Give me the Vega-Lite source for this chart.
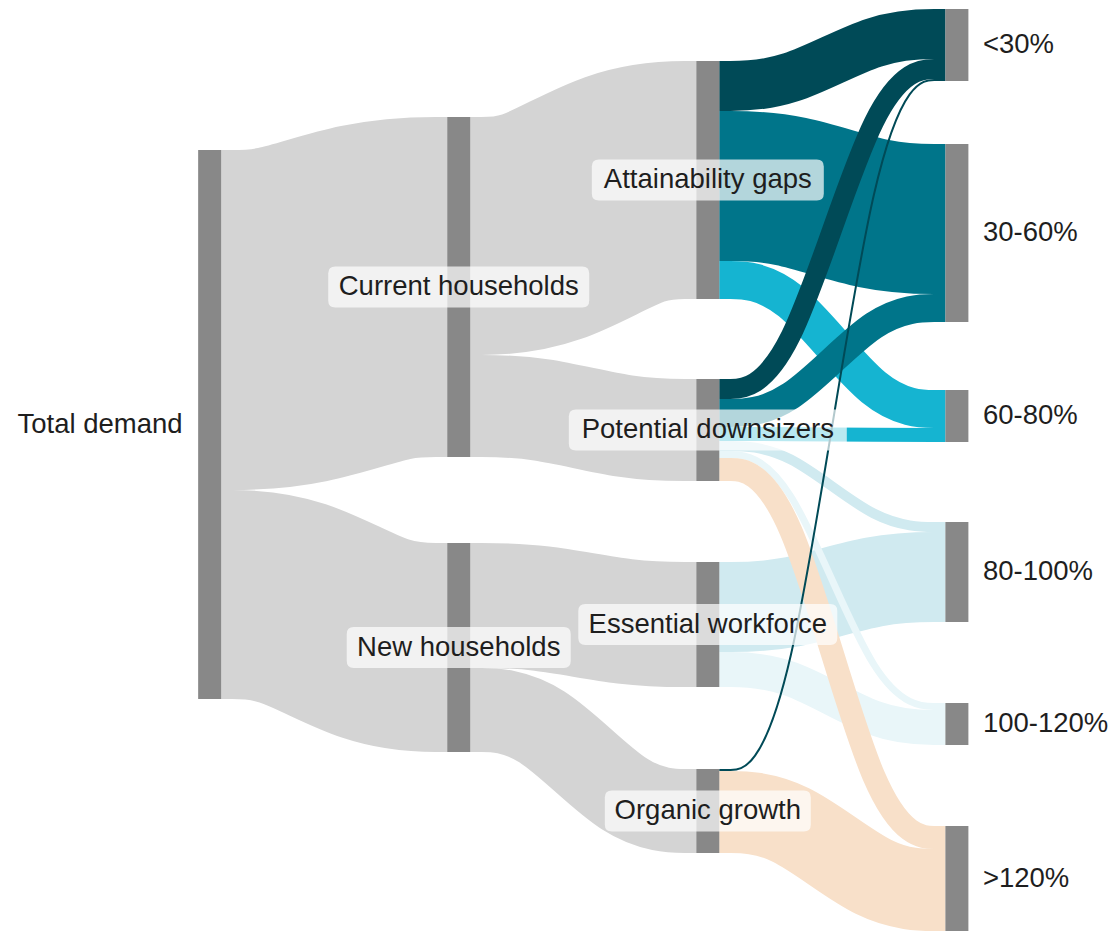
{
  "$schema": "https://vega.github.io/schema/vega-lite/v6.json",
  "width": 1116,
  "height": 931,
  "padding": 0,
  "autosize": {"type": "none"},
  "background": "#ffffff",
  "config": {"view": {"stroke": null}},
  "datasets": {
    "links": [
      {"id": "L01", "g": "flow", "w": 340, "x": 0.0458, "y": 320},
      {"id": "L01", "g": "flow", "w": 340, "x": 0.3183, "y": 320},
      {"id": "L01", "g": "flow", "w": 340, "x": 0.6817, "y": 287},
      {"id": "L01", "g": "flow", "w": 340, "x": 0.9542, "y": 287},
      {"id": "L02", "g": "flow", "w": 209, "x": 0.0458, "y": 594.5},
      {"id": "L02", "g": "flow", "w": 209, "x": 0.3183, "y": 594.5},
      {"id": "L02", "g": "flow", "w": 209, "x": 0.6817, "y": 647.5},
      {"id": "L02", "g": "flow", "w": 209, "x": 0.9542, "y": 647.5},
      {"id": "L03", "g": "flow", "w": 238, "x": 1.0458, "y": 236},
      {"id": "L03", "g": "flow", "w": 238, "x": 1.3183, "y": 236},
      {"id": "L03", "g": "flow", "w": 238, "x": 1.6817, "y": 180},
      {"id": "L03", "g": "flow", "w": 238, "x": 1.9542, "y": 180},
      {"id": "L04", "g": "flow", "w": 102, "x": 1.0458, "y": 406},
      {"id": "L04", "g": "flow", "w": 102, "x": 1.3183, "y": 406},
      {"id": "L04", "g": "flow", "w": 102, "x": 1.6817, "y": 430},
      {"id": "L04", "g": "flow", "w": 102, "x": 1.9542, "y": 430},
      {"id": "L05", "g": "flow", "w": 125, "x": 1.0458, "y": 605.5},
      {"id": "L05", "g": "flow", "w": 125, "x": 1.3183, "y": 605.5},
      {"id": "L05", "g": "flow", "w": 125, "x": 1.6817, "y": 624.5},
      {"id": "L05", "g": "flow", "w": 125, "x": 1.9542, "y": 624.5},
      {"id": "L06", "g": "flow", "w": 84, "x": 1.0458, "y": 710},
      {"id": "L06", "g": "flow", "w": 84, "x": 1.3183, "y": 710},
      {"id": "L06", "g": "flow", "w": 84, "x": 1.6817, "y": 811},
      {"id": "L06", "g": "flow", "w": 84, "x": 1.9542, "y": 811},
      {"id": "L07", "g": "<30%", "w": 50, "x": 2.0458, "y": 86},
      {"id": "L07", "g": "<30%", "w": 50, "x": 2.3183, "y": 86},
      {"id": "L07", "g": "<30%", "w": 50, "x": 2.6817, "y": 34},
      {"id": "L07", "g": "<30%", "w": 50, "x": 2.9542, "y": 34},
      {"id": "L08", "g": "30-60%", "w": 150, "x": 2.0458, "y": 186},
      {"id": "L08", "g": "30-60%", "w": 150, "x": 2.3183, "y": 186},
      {"id": "L08", "g": "30-60%", "w": 150, "x": 2.6817, "y": 219},
      {"id": "L08", "g": "30-60%", "w": 150, "x": 2.9542, "y": 219},
      {"id": "L09", "g": "60-80%", "w": 38, "x": 2.0458, "y": 280},
      {"id": "L09", "g": "60-80%", "w": 38, "x": 2.3183, "y": 280},
      {"id": "L09", "g": "60-80%", "w": 38, "x": 2.6817, "y": 409},
      {"id": "L09", "g": "60-80%", "w": 38, "x": 2.9542, "y": 409},
      {"id": "L10", "g": "80-100%", "w": 90, "x": 2.0458, "y": 607},
      {"id": "L10", "g": "80-100%", "w": 90, "x": 2.3183, "y": 607},
      {"id": "L10", "g": "80-100%", "w": 90, "x": 2.6817, "y": 577},
      {"id": "L10", "g": "80-100%", "w": 90, "x": 2.9542, "y": 577},
      {"id": "L11", "g": "100-120%", "w": 35, "x": 2.0458, "y": 669.5},
      {"id": "L11", "g": "100-120%", "w": 35, "x": 2.3183, "y": 669.5},
      {"id": "L11", "g": "100-120%", "w": 35, "x": 2.6817, "y": 727.5},
      {"id": "L11", "g": "100-120%", "w": 35, "x": 2.9542, "y": 727.5},
      {"id": "L12", "g": "<30%", "w": 20, "x": 2.0458, "y": 389},
      {"id": "L12", "g": "<30%", "w": 20, "x": 2.3183, "y": 389},
      {"id": "L12", "g": "<30%", "w": 20, "x": 2.6817, "y": 69},
      {"id": "L12", "g": "<30%", "w": 20, "x": 2.9542, "y": 69},
      {"id": "L13", "g": "30-60%", "w": 28, "x": 2.0458, "y": 413},
      {"id": "L13", "g": "30-60%", "w": 28, "x": 2.3183, "y": 413},
      {"id": "L13", "g": "30-60%", "w": 28, "x": 2.6817, "y": 308},
      {"id": "L13", "g": "30-60%", "w": 28, "x": 2.9542, "y": 308},
      {"id": "L14", "g": "60-80%", "w": 14, "x": 2.0458, "y": 434},
      {"id": "L14", "g": "60-80%", "w": 14, "x": 2.3183, "y": 434},
      {"id": "L14", "g": "60-80%", "w": 14, "x": 2.6817, "y": 435},
      {"id": "L14", "g": "60-80%", "w": 14, "x": 2.9542, "y": 435},
      {"id": "L15", "g": "80-100%", "w": 10, "x": 2.0458, "y": 446},
      {"id": "L15", "g": "80-100%", "w": 10, "x": 2.3183, "y": 446},
      {"id": "L15", "g": "80-100%", "w": 10, "x": 2.6817, "y": 527},
      {"id": "L15", "g": "80-100%", "w": 10, "x": 2.9542, "y": 527},
      {"id": "L16", "g": "100-120%", "w": 7, "x": 2.0458, "y": 454.5},
      {"id": "L16", "g": "100-120%", "w": 7, "x": 2.3183, "y": 454.5},
      {"id": "L16", "g": "100-120%", "w": 7, "x": 2.6817, "y": 706.5},
      {"id": "L16", "g": "100-120%", "w": 7, "x": 2.9542, "y": 706.5},
      {"id": "L17", "g": ">120%", "w": 23, "x": 2.0458, "y": 469.5},
      {"id": "L17", "g": ">120%", "w": 23, "x": 2.3183, "y": 469.5},
      {"id": "L17", "g": ">120%", "w": 23, "x": 2.6817, "y": 837.5},
      {"id": "L17", "g": ">120%", "w": 23, "x": 2.9542, "y": 837.5},
      {"id": "L18", "g": ">120%", "w": 82, "x": 2.0458, "y": 812},
      {"id": "L18", "g": ">120%", "w": 82, "x": 2.3183, "y": 812},
      {"id": "L18", "g": ">120%", "w": 82, "x": 2.6817, "y": 890},
      {"id": "L18", "g": ">120%", "w": 82, "x": 2.9542, "y": 890},
      {"id": "L19", "g": "<30%", "w": 2, "x": 2.0458, "y": 770},
      {"id": "L19", "g": "<30%", "w": 2, "x": 2.3183, "y": 770},
      {"id": "L19", "g": "<30%", "w": 2, "x": 2.6817, "y": 80},
      {"id": "L19", "g": "<30%", "w": 2, "x": 2.9542, "y": 80}
    ],
    "nodes": [
      {"node": "Total demand", "s": 0, "y0": 150, "y1": 699, "mid": 424.5, "pos": "left"},
      {"node": "Current households", "s": 1, "y0": 117, "y1": 457, "mid": 287, "pos": "center"},
      {"node": "New households", "s": 1, "y0": 543, "y1": 752, "mid": 647.5, "pos": "center"},
      {"node": "Attainability gaps", "s": 2, "y0": 61, "y1": 299, "mid": 180, "pos": "center"},
      {"node": "Potential downsizers", "s": 2, "y0": 379, "y1": 481, "mid": 430, "pos": "center"},
      {"node": "Essential workforce", "s": 2, "y0": 562, "y1": 687, "mid": 624.5, "pos": "center"},
      {"node": "Organic growth", "s": 2, "y0": 769, "y1": 853, "mid": 811, "pos": "center"},
      {"node": "<30%", "s": 3, "y0": 9, "y1": 81, "mid": 45, "pos": "right"},
      {"node": "30-60%", "s": 3, "y0": 144, "y1": 322, "mid": 233, "pos": "right"},
      {"node": "60-80%", "s": 3, "y0": 390, "y1": 442, "mid": 416, "pos": "right"},
      {"node": "80-100%", "s": 3, "y0": 522, "y1": 622, "mid": 572, "pos": "right"},
      {"node": "100-120%", "s": 3, "y0": 703, "y1": 745, "mid": 724, "pos": "right"},
      {"node": ">120%", "s": 3, "y0": 826, "y1": 931, "mid": 878.5, "pos": "right"}
    ]
  },
  "layer": [
    {
      "data": {"name": "links"},
      "mark": {"type": "line", "interpolate": "basis", "strokeCap": "butt"},
      "encoding": {
        "x": {"field": "x", "type": "quantitative", "scale": {"domain": [-0.8216, 3.6187], "nice": false, "zero": false}, "axis": null},
        "y": {"field": "y", "type": "quantitative", "scale": {"domain": [0, 931], "reverse": true, "nice": false, "zero": false}, "axis": null},
        "detail": {"field": "id", "type": "nominal"},
        "strokeWidth": {"field": "w", "type": "quantitative", "scale": null},
        "color": {
          "field": "g", "type": "nominal", "legend": null,
          "scale": {
            "domain": ["flow", "<30%", "30-60%", "60-80%", "80-100%", "100-120%", ">120%"],
            "range": ["#d4d4d4", "#004a57", "#00758a", "#15b4d1", "#d0eaf0", "#e9f6f9", "#f8e0c9"]
          }
        }
      }
    },
    {
      "data": {"name": "nodes"},
      "mark": {"type": "bar", "orient": "vertical", "width": 23, "color": "#888888"},
      "encoding": {
        "x": {"field": "s", "type": "quantitative", "scale": {"domain": [-0.8216, 3.6187], "nice": false, "zero": false}, "axis": null},
        "y": {"field": "y0", "type": "quantitative", "scale": {"domain": [0, 931], "reverse": true, "nice": false, "zero": false}, "axis": null},
        "y2": {"field": "y1"}
      }
    },
    {
      "data": {"name": "nodes"},
      "transform": [{"filter": "datum.pos === 'center'"}],
      "mark": {"type": "point", "filled": true, "fill": "#ffffff", "fillOpacity": 0.7, "opacity": 1, "strokeWidth": 0, "size": 4},
      "encoding": {
        "x": {"field": "s", "type": "quantitative", "scale": {"domain": [-0.8216, 3.6187], "nice": false, "zero": false}, "axis": null},
        "y": {"field": "mid", "type": "quantitative", "scale": {"domain": [0, 931], "reverse": true, "nice": false, "zero": false}, "axis": null},
        "shape": {
          "field": "node", "type": "nominal", "legend": null,
          "scale": {
            "domain": ["Current households", "New households", "Attainability gaps", "Potential downsizers", "Essential workforce", "Organic growth"],
            "range": [
              "M-123.5,-20.5H123.5Q130.5,-20.5,130.5,-13.5V13.5Q130.5,20.5,123.5,20.5H-123.5Q-130.5,20.5,-130.5,13.5V-13.5Q-130.5,-20.5,-123.5,-20.5Z",
              "M-105,-20.5H105Q112,-20.5,112,-13.5V13.5Q112,20.5,105,20.5H-105Q-112,20.5,-112,13.5V-13.5Q-112,-20.5,-105,-20.5Z",
              "M-109,-20.5H109Q116,-20.5,116,-13.5V13.5Q116,20.5,109,20.5H-109Q-116,20.5,-116,13.5V-13.5Q-116,-20.5,-109,-20.5Z",
              "M-132,-20.5H132Q139,-20.5,139,-13.5V13.5Q139,20.5,132,20.5H-132Q-139,20.5,-139,13.5V-13.5Q-139,-20.5,-132,-20.5Z",
              "M-122.5,-20.5H122.5Q129.5,-20.5,129.5,-13.5V13.5Q129.5,20.5,122.5,20.5H-122.5Q-129.5,20.5,-129.5,13.5V-13.5Q-129.5,-20.5,-122.5,-20.5Z",
              "M-96,-20.5H96Q103,-20.5,103,-13.5V13.5Q103,20.5,96,20.5H-96Q-103,20.5,-103,13.5V-13.5Q-103,-20.5,-96,-20.5Z"
            ]
          }
        }
      }
    },
    {
      "data": {"name": "nodes"},
      "transform": [{"filter": "datum.pos === 'center'"}],
      "mark": {"type": "text", "align": "center", "baseline": "middle", "font": "Liberation Sans", "fontSize": 27.5, "color": "#1e1e1e"},
      "encoding": {
        "x": {"field": "s", "type": "quantitative", "scale": {"domain": [-0.8216, 3.6187], "nice": false, "zero": false}, "axis": null},
        "y": {"field": "mid", "type": "quantitative", "scale": {"domain": [0, 931], "reverse": true, "nice": false, "zero": false}, "axis": null},
        "text": {"field": "node", "type": "nominal"}
      }
    },
    {
      "data": {"name": "nodes"},
      "transform": [{"filter": "datum.pos === 'left'"}],
      "mark": {"type": "text", "align": "right", "baseline": "middle", "dx": -27, "font": "Liberation Sans", "fontSize": 27.5, "color": "#1e1e1e"},
      "encoding": {
        "x": {"field": "s", "type": "quantitative", "scale": {"domain": [-0.8216, 3.6187], "nice": false, "zero": false}, "axis": null},
        "y": {"field": "mid", "type": "quantitative", "scale": {"domain": [0, 931], "reverse": true, "nice": false, "zero": false}, "axis": null},
        "text": {"field": "node", "type": "nominal"}
      }
    },
    {
      "data": {"name": "nodes"},
      "transform": [{"filter": "datum.pos === 'right'"}],
      "mark": {"type": "text", "align": "left", "baseline": "middle", "dx": 26, "font": "Liberation Sans", "fontSize": 27.5, "color": "#1e1e1e"},
      "encoding": {
        "x": {"field": "s", "type": "quantitative", "scale": {"domain": [-0.8216, 3.6187], "nice": false, "zero": false}, "axis": null},
        "y": {"field": "mid", "type": "quantitative", "scale": {"domain": [0, 931], "reverse": true, "nice": false, "zero": false}, "axis": null},
        "text": {"field": "node", "type": "nominal"}
      }
    }
  ]
}
